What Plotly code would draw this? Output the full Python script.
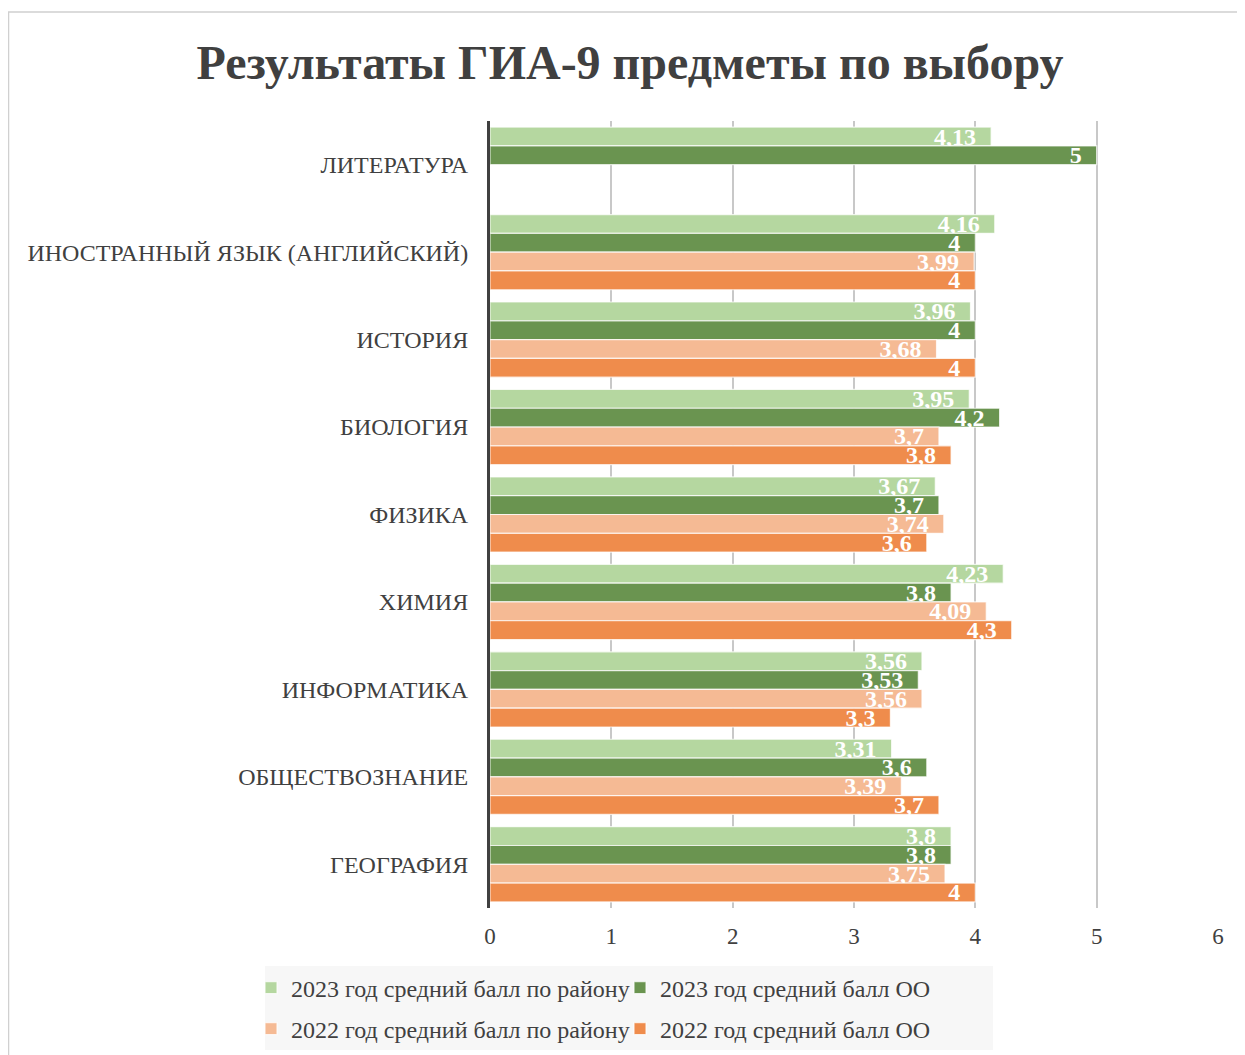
import plotly.graph_objects as go

categories = ["ЛИТЕРАТУРА", "ИНОСТРАННЫЙ ЯЗЫК (АНГЛИЙСКИЙ)", "ИСТОРИЯ", "БИОЛОГИЯ",
              "ФИЗИКА", "ХИМИЯ", "ИНФОРМАТИКА", "ОБЩЕСТВОЗНАНИЕ", "ГЕОГРАФИЯ"]

series_names = ["2023 год средний балл по району", "2023 год средний балл ОО",
                "2022 год средний балл по району", "2022 год средний балл ОО"]

district_2023 = [4.13, 4.16, 3.96, 3.95, 3.67, 4.23, 3.56, 3.31, 3.8]
school_2023 = [5, 4, 4, 4.2, 3.7, 3.8, 3.53, 3.6, 3.8]
district_2022 = [None, 3.99, 3.68, 3.7, 3.74, 4.09, 3.56, 3.39, 3.75]
school_2022 = [None, 4, 4, 3.8, 3.6, 4.3, 3.3, 3.7, 4]

x_ticks = [0, 1, 2, 3, 4, 5, 6]

colors = ["#B5D7A0", "#6A9450", "#F5BA94", "#EF8C4C"]

# page is rendered with an 8px body margin
OFF = 8
W, H = 1245 - OFF, 1055 - OFF
PLOT_L, PLOT_R, PLOT_T, PLOT_B = 490, 1218, 121, 908   # page pixels of the plot area
L, R, T, B = PLOT_L - OFF, W - (PLOT_R - OFF), PLOT_T - OFF, H - (PLOT_B - OFF)
pw, ph = W - L - R, H - T - B

def fx(page_x):
    return (page_x - OFF - L) / pw

def fy(page_y):
    return (H - B - (page_y - OFF)) / ph

def fmt(v):
    if v is None:
        return ""
    return ("%g" % v).replace(".", ",") + "\u00a0\u00a0"

fig = go.Figure()
for i, (name, vals, col) in enumerate(zip(series_names,
                                          [district_2023, school_2023, district_2022, school_2022],
                                          colors)):
    fig.add_trace(go.Bar(
        y=categories, x=vals, name=name, orientation="h",
        legend="legend" if i < 2 else "legend2",
        marker=dict(color=col, line=dict(color="rgba(255,255,255,0.75)", width=1.2)),
        text=[fmt(v) for v in vals],
        textposition="inside", insidetextanchor="end", textangle=0,
        textfont=dict(family="Liberation Serif", size=24, color="white", weight="bold"),
        constraintext="none", cliponaxis=False,
    ))

legend_common = dict(orientation="h", xanchor="left", yanchor="middle",
                     bgcolor="rgba(0,0,0,0)", entrywidth=324, entrywidthmode="pixels",
                     font=dict(family="Liberation Serif", size=24, color="#404040"),
                     itemwidth=30)

fig.update_layout(
    width=W, height=H,
    margin=dict(l=L, r=R, t=T, b=B, autoexpand=False),
    paper_bgcolor="white", plot_bgcolor="white",
    barmode="group", bargap=0.14, bargroupgap=0,
    uniformtext=dict(minsize=24, mode="show"),
    font=dict(family="Liberation Serif", color="#404040", size=24),
    title=dict(text="<b>Результаты ГИА-9 предметы по выбору</b>",
               x=(630 - OFF) / W, xanchor="center", y=1 - (62 - OFF) / H, yanchor="middle",
               font=dict(family="Liberation Serif", size=48, color="#404040")),
    xaxis=dict(range=[0, 6], tickvals=x_ticks, showgrid=True, gridcolor="#C8C8C8", gridwidth=1.5,
               zeroline=False, showline=False, ticks="", ticklabelstandoff=12, automargin=False,
               tickfont=dict(size=23, color="#404040")),
    yaxis=dict(autorange="reversed", showline=True, linecolor="#404040", linewidth=3,
               ticks="", ticklabelstandoff=14, automargin=False,
               tickfont=dict(size=24, color="#404040")),
    legend=dict(x=fx(251), y=fy(988), **legend_common),
    legend2=dict(x=fx(251), y=fy(1029), **legend_common),
    shapes=[
        dict(type="rect", xref="paper", yref="paper",
             x0=fx(8.5), x1=fx(1238), y0=fy(1070), y1=fy(12),
             line=dict(color="#D0D0D0", width=1.5), fillcolor="rgba(0,0,0,0)", layer="below"),
        dict(type="rect", xref="paper", yref="paper",
             x0=fx(265), x1=fx(993), y0=fy(1050), y1=fy(966),
             line=dict(width=0), fillcolor="#F7F7F7", layer="below"),
    ],
)

fig.write_html("out.html")
